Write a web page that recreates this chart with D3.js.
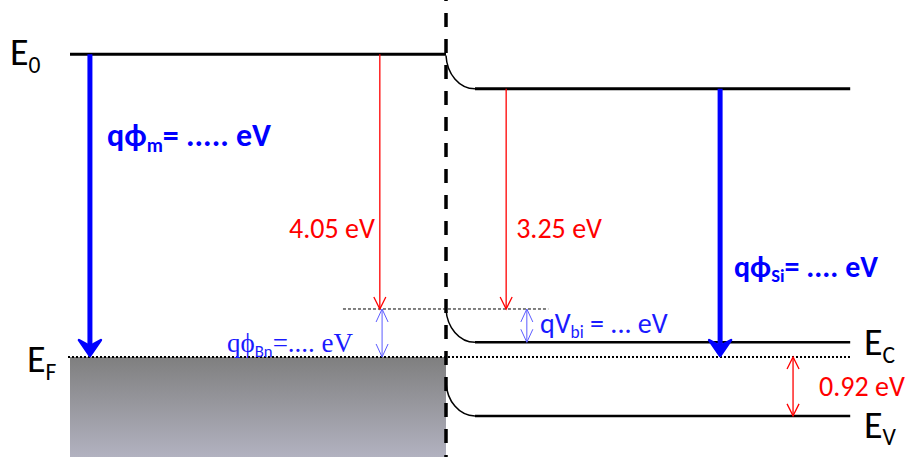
<!DOCTYPE html>
<html>
<head>
<meta charset="utf-8">
<script src="https://cdn.jsdelivr.net/npm/d3@7"></script>
<style>
  body { margin: 0; background: #fff; }
  svg { display: block; }
</style>
</head>
<body>
<script>
// Schematic band-edge energies of the metal / n-Si Schottky contact (eV above E_F)
const levelNames  = ["E0 metal", "E0 Si", "barrier top", "EC", "EF", "EV"];
const levelEnergy = [4.73, 4.19, 0.75, 0.23, 0, -0.92];

// Horizontal layout in depth units: interface at 0, metal to the left
const regionNames  = ["metal", "Si"];
const regionStart  = [-1, 0];
const regionEnd    = [0, 1.075];
const depletionEnd = 0.077;

// Red energy-difference arrows
const gapLabels = ["4.05 eV", "3.25 eV", "0.92 eV"];
const gapX      = [-0.176, 0.16, 0.923];
const gapFrom   = ["E0 metal", "E0 Si", "EF"];
const gapTo     = ["barrier top", "barrier top", "EV"];
const gapBoth   = [false, false, true];

// Thin blue double arrows (barrier height, built-in potential)
const barrierX    = [-0.17, 0.215];
const barrierFrom = ["barrier top", "barrier top"];
const barrierTo   = ["EF", "EC"];

// Thick blue work-function arrows
const workX    = [-0.947, 0.729];
const workFrom = ["E0 metal", "E0 Si"];
const workTo   = ["EF", "EF"];

const W = 911, H = 457;
const E = name => levelEnergy[levelNames.indexOf(name)];

const x = d3.scaleLinear().domain([-1, 0]).range([70, 446]);
const y = d3.scaleLinear().domain([-1.5625, 5.578]).range([H, 0]);

const svg = d3.select("body").append("svg")
  .attr("width", W).attr("height", H)
  .attr("viewBox", `0 0 ${W} ${H}`);

const sans = "Carlito, Lato, 'Noto Sans', sans-serif";
const serif = "'Liberation Serif', serif";

// Metal Fermi sea
const defs = svg.append("defs");
const grad = defs.append("linearGradient").attr("id", "sea")
  .attr("x1", 0).attr("y1", 0).attr("x2", 0).attr("y2", 1);
grad.append("stop").attr("offset", 0).attr("stop-color", "#7f7f7f");
grad.append("stop").attr("offset", 1).attr("stop-color", "#b2b2c0");

svg.append("rect")
  .attr("x", x(regionStart[0])).attr("y", y(E("EF")))
  .attr("width", x(regionEnd[0]) - x(regionStart[0]))
  .attr("height", H - y(E("EF")))
  .attr("fill", "url(#sea)");

// Fermi level (dotted across both sides)
svg.append("line")
  .attr("x1", x(regionStart[0]) - 2).attr("x2", x(regionEnd[1]))
  .attr("y1", y(E("EF"))).attr("y2", y(E("EF")))
  .attr("stroke", "#000").attr("stroke-width", 2)
  .attr("stroke-dasharray", "2,2");

// Thin dashed reference at the barrier top
svg.append("line")
  .attr("x1", x(-0.274)).attr("x2", x(0.272))
  .attr("y1", y(E("barrier top"))).attr("y2", y(E("barrier top")))
  .attr("stroke", "#000").attr("stroke-width", 1)
  .attr("stroke-dasharray", "3,2");

// Metal vacuum level
svg.append("line")
  .attr("x1", x(regionStart[0])).attr("x2", x(regionEnd[0]))
  .attr("y1", y(E("E0 metal"))).attr("y2", y(E("E0 metal")))
  .attr("stroke", "#000").attr("stroke-width", 3);

// Semiconductor bands with band bending near the interface
const bend = E("barrier top") - E("EC");
const siBands = [
  { bulk: E("E0 Si"), width: 3 },
  { bulk: E("EC"), width: 2.5 },
  { bulk: E("EV"), width: 2.5 }
];
siBands.forEach(b => {
  const x0 = x(0), x1 = x(depletionEnd);
  const yTop = y(b.bulk + bend), yBulk = y(b.bulk);
  const p = d3.path();
  p.moveTo(x0, yTop);
  p.bezierCurveTo(x0 + 1, yTop + (yBulk - yTop) * 0.55,
                  x0 + (x1 - x0) * 0.45, yBulk,
                  x1, yBulk);
  svg.append("path").attr("d", p.toString())
    .attr("fill", "none").attr("stroke", "#000").attr("stroke-width", 1.5);
  svg.append("line")
    .attr("x1", x1).attr("x2", x(regionEnd[1]))
    .attr("y1", yBulk).attr("y2", yBulk)
    .attr("stroke", "#000").attr("stroke-width", b.width);
});

// Interface
svg.append("line")
  .attr("x1", x(0)).attr("x2", x(0))
  .attr("y1", 0).attr("y2", H)
  .attr("stroke", "#000").attr("stroke-width", 3.5)
  .attr("stroke-dasharray", "14,12").attr("stroke-dashoffset", 13);

// Arrow helpers
function head(g, xc, yTip, dir, hw, hl, color, sw) {
  g.append("path")
    .attr("d", `M${xc - hw},${yTip - dir * hl}L${xc},${yTip}L${xc + hw},${yTip - dir * hl}`)
    .attr("fill", "none").attr("stroke", color).attr("stroke-width", sw)
    .attr("stroke-linejoin", "miter");
}
function arrow(xv, fromE, toE, both, color, sw, hw, hl) {
  const g = svg.append("g");
  const xc = x(xv), ya = y(fromE), yb = y(toE);
  const dir = yb > ya ? 1 : -1;
  g.append("line").attr("x1", xc).attr("x2", xc)
    .attr("y1", ya).attr("y2", yb)
    .attr("stroke", color).attr("stroke-width", sw);
  head(g, xc, yb, dir, hw, hl, color, sw);
  if (both) head(g, xc, ya, -dir, hw, hl, color, sw);
  return g;
}

gapLabels.forEach((lab, i) => {
  arrow(gapX[i], E(gapFrom[i]), E(gapTo[i]), gapBoth[i], "#ff0000", 1.3, 6, 12);
});
barrierX.forEach((xv, i) => {
  arrow(xv, E(barrierFrom[i]), E(barrierTo[i]), true, "#5c5cff", 1, 6, 13);
});

// Thick work-function arrows
workX.forEach((xv, i) => {
  const xc = x(xv), ya = y(E(workFrom[i])), yb = y(E(workTo[i])) - 1;
  svg.append("line").attr("x1", xc).attr("x2", xc)
    .attr("y1", ya).attr("y2", yb - 6)
    .attr("stroke", "#0000ff").attr("stroke-width", 5);
  svg.append("path")
    .attr("d", `M${xc - 11},${yb - 16}L${xc},${yb}L${xc + 11},${yb - 16}L${xc},${yb - 10}Z`)
    .attr("fill", "#0000ff").attr("stroke", "#0000ff").attr("stroke-width", 2.5)
    .attr("stroke-linejoin", "round");
});

// Red value labels
const red = svg.append("g").attr("fill", "#ff0000")
  .attr("font-family", sans).attr("font-size", 28);
red.append("text").attr("x", x(gapX[0]) - 5).attr("y", 238)
  .attr("text-anchor", "end").text(gapLabels[0]);
red.append("text").attr("x", x(gapX[1]) + 10).attr("y", 238)
  .text(gapLabels[1]);
red.append("text").attr("x", 819).attr("y", y((E("EF") + E("EV")) / 2) + 10)
  .text(gapLabels[2]);

// Level names
function levelLabel(main, sub, xp, yp, size) {
  const t = svg.append("text").attr("x", xp).attr("y", yp)
    .attr("font-family", sans).attr("font-size", size).attr("fill", "#000");
  t.append("tspan").text(main);
  t.append("tspan").attr("font-size", size * 0.62).attr("dy", size * 0.2).text(sub);
}
levelLabel("E", "0", 10, y(E("E0 metal")) + 11, 38);
levelLabel("E", "F", 27, y(E("EF")) + 15, 38);
levelLabel("E", "C", 864, y(E("EC")) + 13, 38);
levelLabel("E", "V", 864, y(E("EV")) + 22, 38);

// Blue annotations: [text, isSubscript, optional font family]
function blueLabel(parts, xp, yp, opts) {
  const t = svg.append("text").attr("x", xp).attr("y", yp)
    .attr("font-family", opts.family).attr("font-size", opts.size)
    .attr("font-weight", opts.weight).attr("fill", opts.color);
  parts.forEach(([txt, sub, fam]) => {
    const s = t.append("tspan").text(txt);
    if (fam) s.attr("font-family", fam);
    if (sub) s.attr("font-size", opts.size * 0.62).attr("dy", opts.size * 0.18);
    else if (t.selectAll("tspan").size() > 1) s.attr("dy", -opts.size * 0.18);
  });
}
blueLabel([["q\u03D5"], ["m", true], ["= ..... eV"]], 107, 146,
  { family: sans, size: 32, weight: "bold", color: "#0000ff" });
blueLabel([["q\u03D5"], ["Si", true], ["= .... eV"]], 734, 277,
  { family: sans, size: 30, weight: "bold", color: "#0000ff" });
blueLabel([["q\u03D5"], ["Bn", true, sans], ["=.... eV"]], 227, 352,
  { family: serif, size: 27, weight: "normal", color: "#1a1aff" });
blueLabel([["qV"], ["bi", true], [" = ... eV"]], 540, 333,
  { family: sans, size: 28, weight: "normal", color: "#1a1aff" });
</script>
</body>
</html>
